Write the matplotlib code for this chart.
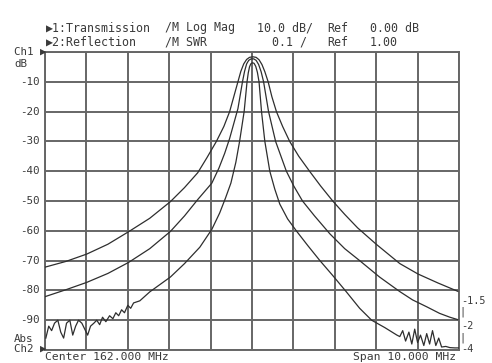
import matplotlib
matplotlib.use("Agg")
import matplotlib.pyplot as plt
import numpy as np

# ---- data (frequency offset from centre, MHz ; magnitude dB) ----
center_mhz = 162.0
span_mhz = 10.0

outer_f = [-5.00, -4.50, -3.99, -3.48, -2.98, -2.47, -1.97, -1.63, -1.31, -1.09,
           -0.86, -0.68, -0.54, -0.34, -0.27, -0.20, -0.13, -0.06, 0.02,
           0.10, 0.17, 0.24, 0.31, 0.39, 0.48, 0.59, 0.74, 0.91, 1.13, 1.39, 1.66,
           1.95, 2.24, 2.55, 3.00, 3.57, 4.01, 4.49, 4.97]
outer_db = [-72.2, -70.3, -67.8, -64.5, -60.3, -55.8, -50.2, -45.5, -40.5, -35.5,
            -30.0, -25.0, -20.0, -10.0, -6.5, -4.0, -2.5, -1.8, -1.6,
            -1.8, -2.6, -4.2, -6.6, -10.0, -15.0, -20.0, -25.0, -30.0, -35.0, -40.0, -45.0,
            -50.0, -54.5, -59.0, -64.5, -71.0, -74.5, -77.5, -80.3]

middle_f = [-5.00, -4.50, -3.99, -3.48, -2.98, -2.47, -1.97, -1.63, -1.31, -0.97,
            -0.80, -0.66, -0.54, -0.44, -0.34, -0.23, -0.18, -0.13, -0.08, -0.02,
            0.04, 0.10, 0.16, 0.22, 0.28, 0.40, 0.57, 0.83, 1.01, 1.22, 1.51, 1.88,
            2.24, 2.60, 3.08, 3.57, 3.88, 4.22, 4.53, 4.78, 4.97]
middle_db = [-82.1, -79.8, -77.3, -74.3, -70.6, -66.0, -60.2, -55.0, -49.5, -44.0,
             -39.0, -34.0, -29.0, -24.0, -19.0, -10.0, -6.5, -4.0, -2.8, -2.3,
             -2.3, -2.8, -4.2, -6.6, -10.0, -20.0, -30.0, -40.0, -45.0, -50.0, -55.0, -61.0,
             -66.0, -70.0, -75.5, -80.4, -83.2, -85.5, -87.7, -89.0, -89.8]

inner_f = [-4.98, -4.91, -4.84, -4.77, -4.69, -4.62, -4.55, -4.48, -4.40, -4.33,
           -4.26, -4.19, -4.11, -4.04, -3.97, -3.90, -3.82, -3.75, -3.68, -3.61,
           -3.53, -3.44, -3.36, -3.29, -3.22, -3.15, -3.08, -3.00, -2.93, -2.86,
           -2.71, -2.59, -2.47, -1.97, -1.63, -1.26, -0.97, -0.78, -0.64, -0.51,
           -0.39, -0.30, -0.19, -0.12, -0.09, -0.06, -0.03, 0.01,
           0.05, 0.09, 0.13, 0.17, 0.23, 0.31, 0.43, 0.55, 0.67, 0.86, 1.07, 1.35,
           1.64, 1.95, 2.28, 2.60, 2.89, 3.21, 3.50,
           3.57, 3.64, 3.71, 3.79, 3.86, 3.93, 4.00, 4.07, 4.15, 4.22, 4.29,
           4.36, 4.44, 4.51, 4.58, 4.68, 4.78, 4.90, 4.99]
inner_db = [-96.0, -92.0, -93.5, -91.0, -90.0, -94.0, -96.0, -91.0, -90.0, -95.0,
            -92.0, -90.0, -91.0, -93.0, -95.0, -92.0, -91.0, -90.0, -91.5, -89.0,
            -90.5, -88.5, -89.5, -87.5, -88.5, -86.5, -87.5, -85.0, -86.0, -84.2,
            -83.5, -82.0, -80.5, -75.5, -71.0, -65.5, -59.5, -54.0, -49.0, -44.0,
            -37.0, -30.0, -20.0, -10.0, -7.0, -5.0, -4.0, -3.6,
            -3.8, -4.8, -6.8, -10.0, -20.0, -30.0, -40.0, -46.0, -51.0, -56.0, -60.0, -65.0,
            -70.0, -75.0, -80.5, -86.0, -90.0, -92.5, -95.0,
            -95.5, -93.5, -97.0, -94.0, -98.0, -93.0, -97.5, -95.0, -98.5, -94.5, -98.0,
            -93.5, -98.5, -96.0, -99.0, -98.8, -99.2, -99.3, -99.3]

y_ticks = [-10, -20, -30, -40, -50, -60, -70, -80, -90]

# ---- figure ----
W, H = 492, 363
fig = plt.figure(figsize=(W / 100, H / 100), dpi=100)
fig.patch.set_facecolor("white")
L, R, T, B = 45, 459, 52, 350
ax = fig.add_axes([L / W, 1 - B / H, (R - L) / W, (B - T) / H])
ax.set_xlim(center_mhz - span_mhz / 2, center_mhz + span_mhz / 2)
ax.set_ylim(-100, 0)

grid_c = "#666666"
ax.set_xticks(np.arange(center_mhz - 5, center_mhz + 5.01, 1.0))
ax.set_yticks(np.arange(-100, 0.1, 10))
ax.grid(True, color=grid_c, linewidth=1.4)
ax.tick_params(length=0, labelbottom=False, labelleft=False)
for s in ax.spines.values():
    s.set_color(grid_c)
    s.set_linewidth(1.4)

line_c = "#2e2e2e"
for f, d in [(outer_f, outer_db), (middle_f, middle_db), (inner_f, inner_db)]:
    ax.plot(center_mhz + np.array(f), d, color=line_c, linewidth=0.9, zorder=3)

mono = "DejaVu Sans Mono"
tc = "#3a3a3a"
fs = 8.4

def px(x, y, s, ha="left", va="center", size=fs):
    fig.text(x / W, 1 - y / H, s, ha=ha, va=va, fontsize=size,
             family=mono, color=tc)

# header
px(46, 28, "▶1:Transmission")
px(165, 28, "/M Log Mag")
px(257, 28, "10.0 dB/")
px(327, 28, "Ref")
px(370, 28, "0.00 dB")
px(46, 42, "▶2:Reflection")
px(165, 42, "/M SWR")
px(272, 42, "0.1 /")
px(327, 42, "Ref")
px(370, 42, "1.00")

# left labels
px(14, 52, "Ch1 ▶", size=7.8)
px(14, 64, "dB", size=7.8)
for v in y_ticks:
    ypix = T + (0 - v) / 100 * (B - T)
    px(40, ypix, f"{v}", ha="right", size=7.8)
px(14, 339, "Abs", size=7.8)
px(14, 349, "Ch2 ▶", size=7.8)

# right ch2 scale marks
px(461, 301, "-1.5", size=7.4)
px(459, 312, "|", size=7.4)
px(461, 326, "-2", size=7.4)
px(459, 338, "|", size=7.4)
px(461, 349, "-4", size=7.4)

# bottom
px(45, 357, "Center 162.000 MHz", size=8.2)
px(353, 357, "Span 10.000 MHz", size=8.2)

fig.savefig("out.png", dpi=100, facecolor="white")
